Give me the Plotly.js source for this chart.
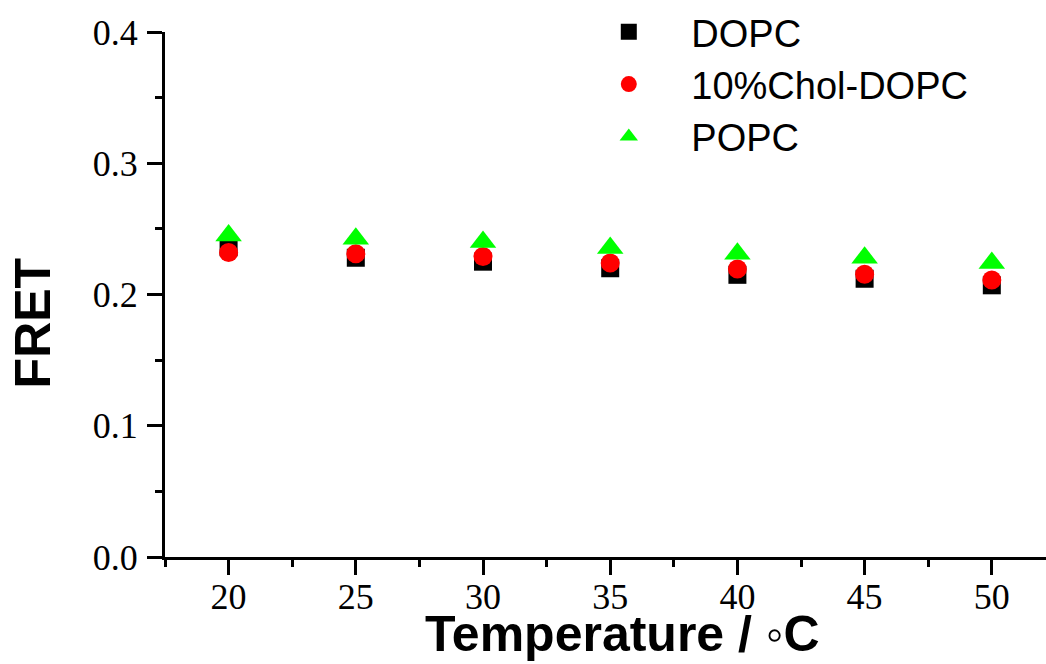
<!DOCTYPE html>
<html>
<head>
<meta charset="utf-8">
<script src="https://cdn.plot.ly/plotly-3.0.1.min.js"></script>
<style>html,body{margin:0;padding:0;background:#fff;}#chart{width:1046px;height:664px;}</style>
</head>
<body>
<div id="chart"></div>
<script>
const temperature = [20, 25, 30, 35, 40, 45, 50];
const dopc = [0.236, 0.228, 0.225, 0.220, 0.215, 0.212, 0.207];
const cholDopc = [0.232, 0.231, 0.229, 0.224, 0.2195, 0.2155, 0.211];
const popc = [0.245, 0.2425, 0.240, 0.2355, 0.231, 0.228, 0.224];
const seriesNames = ["DOPC", "10%Chol-DOPC", "POPC"];
const xTitle = "Temperature / \u25E6C";
const yTitle = "FRET";

const traces = [
  {x: temperature, y: dopc, name: seriesNames[0], mode: "markers", type: "scatter",
   marker: {symbol: "square", size: 18, color: "#000000"}},
  {x: temperature, y: cholDopc, name: seriesNames[1], mode: "markers", type: "scatter",
   marker: {symbol: "circle", size: 19, color: "#ff0000"}},
  {x: temperature, y: popc, name: seriesNames[2], mode: "markers", type: "scatter",
   marker: {symbol: "triangle-up", size: 23, color: "#00ff00"}}
];

const axisCommon = {
  showgrid: false, zeroline: false, showline: true, linecolor: "#000", linewidth: 3,
  ticks: "outside", ticklen: 15, tickwidth: 3, tickcolor: "#000",
  tickfont: {family: "Liberation Serif, Times New Roman, serif", size: 36, color: "#000"}
};

const layout = {
  width: 1046, height: 664,
  margin: {l: 165, r: 0, t: 30, b: 107, pad: 0},
  paper_bgcolor: "#fff", plot_bgcolor: "#fff",
  showlegend: true,
  legend: {x: 0.4555, y: 1.06, xanchor: "left", yanchor: "top", bgcolor: "rgba(0,0,0,0)",
           font: {family: "Liberation Sans, Arial, sans-serif", size: 38, color: "#000"},
           itemwidth: 115, tracegroupgap: 0},
  xaxis: Object.assign({}, axisCommon, {
    range: [17.5, 52.13], tick0: 20, dtick: 5, ticklabelstandoff: -9,
    minor: {dtick: 2.5, ticklen: 7, tickwidth: 3, tickcolor: "#000", ticks: "outside", showgrid: false}
  }),
  yaxis: Object.assign({}, axisCommon, {
    range: [0, 0.4], dtick: 0.1, tick0: 0, tickformat: ".1f", ticklabelstandoff: 2,
    minor: {dtick: 0.05, ticklen: 7, tickwidth: 3, tickcolor: "#000", ticks: "outside", showgrid: false}
  }),
  annotations: [
    {text: "<b>" + xTitle + "</b>", xref: "paper", yref: "paper", x: 0.519, y: -0.203,
     xanchor: "center", yanchor: "bottom", showarrow: false,
     font: {family: "Liberation Sans, Arial, sans-serif", size: 50, color: "#000"}},
    {text: "<b>" + yTitle + "</b>", xref: "paper", yref: "paper", x: -0.1498, y: 0.445,
     xanchor: "center", yanchor: "middle", showarrow: false, textangle: -90,
     font: {family: "Liberation Sans, Arial, sans-serif", size: 50, color: "#000"}}
  ]
};

Plotly.newPlot("chart", traces, layout, {staticPlot: true, displayModeBar: false});
</script>
</body>
</html>
